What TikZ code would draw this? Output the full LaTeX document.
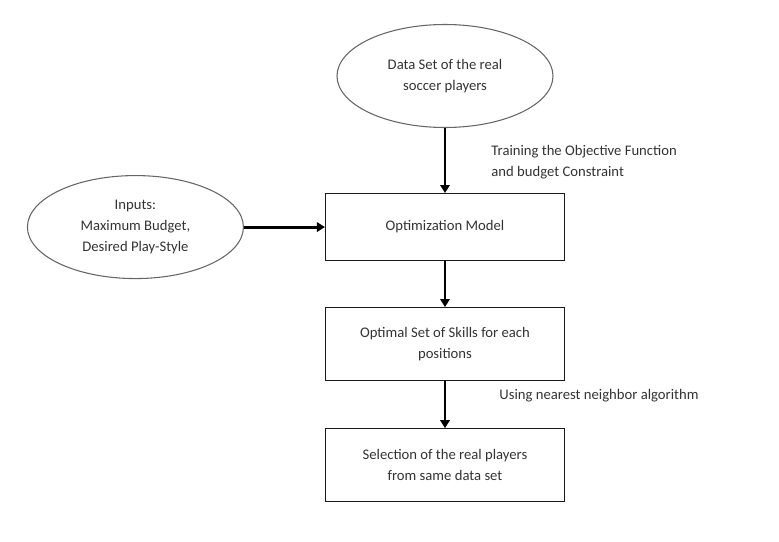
\documentclass[tikz,border=0pt]{standalone}
\usepackage{fontspec}
\setmainfont{Carlito}
\usepackage{xcolor}
\usetikzlibrary{shapes.geometric, arrows.meta, positioning}

\begin{document}
\begin{tikzpicture}[
    font=\fontsize{11pt}{15.75pt}\selectfont,
    every node/.style={text=black!80},
    box/.style={rectangle, draw=black!90, line width=0.8pt, minimum width=179.25pt, align=center, inner sep=0pt},
    oval/.style={ellipse, draw=black!60, line width=0.8pt, minimum width=162pt, minimum height=77.25pt, align=center, inner sep=0pt},
    arrow/.style={->, >={Triangle[length=6pt,width=7pt]}, line width=2.2pt, black},
    note/.style={inner sep=0pt, align=left, anchor=west}
]
\useasboundingbox (0,0) rectangle (584.25pt,-406.5pt);

\node[oval] (data) at (333.75pt,-57pt) {Data Set of the real\\soccer players};
\node[box, minimum height=50.25pt, below=48.75pt of data] (optim) {Optimization Model};
\node[box, minimum height=54.75pt, below=34.5pt of optim] (skills) {Optimal Set of Skills for each\\positions};
\node[box, minimum height=54.75pt, below=35.25pt of skills] (select) {Selection of the real players\\from same data set};
\node[oval, left=60.75pt of optim] (inputs) {Inputs:\\Maximum Budget,\\Desired Play-Style};

\draw[arrow] (data) -- node[note, xshift=33.75pt, yshift=-1pt] (train) {Training the Objective Function\\and budget Constraint} (optim);
\draw[arrow] (inputs) -- (optim);
\draw[arrow] (optim) -- (skills);
\draw[arrow] (skills) -- node[note, xshift=39.75pt, yshift=7pt] (nn) {Using nearest neighbor algorithm} (select);

\end{tikzpicture}
\end{document}
